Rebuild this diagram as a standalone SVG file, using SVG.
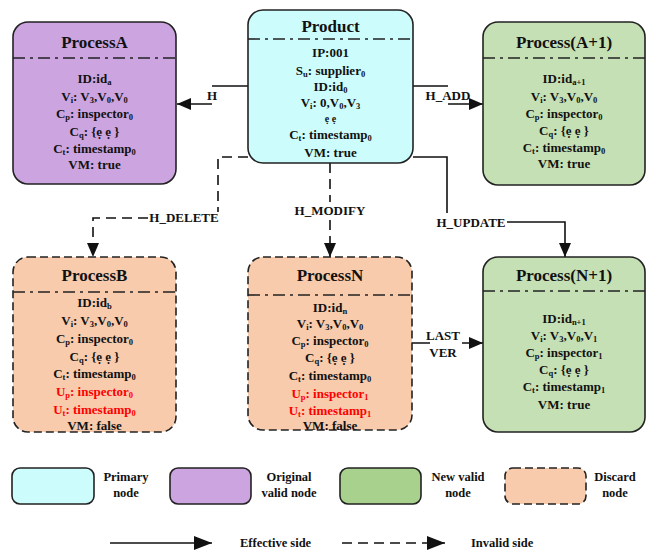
<svg xmlns="http://www.w3.org/2000/svg" width="647" height="552" viewBox="0 0 647 552">
<style>
text{font-family:"Liberation Serif","Times New Roman",serif;font-weight:bold;fill:#111;}
.t{font-size:17px;text-anchor:middle;}
.b{font-size:13px;text-anchor:middle;}
.r{fill:#FF0000;}
.s{font-size:8.5px;baseline-shift:-1.5px;}
.l{font-size:12.5px;}
.lc{font-size:12.5px;text-anchor:middle;}
.box{stroke:#222;stroke-width:1.6;}
.dsh{stroke-dasharray:8,4;}
.div{stroke:#222;stroke-width:1.6;fill:none;stroke-dasharray:12,5,3,5;}
.c{fill:none;stroke:#111;stroke-width:1.6;}
.cd{fill:none;stroke:#111;stroke-width:1.6;stroke-dasharray:10,6;}
</style>
<defs>
<marker id="ah" markerUnits="userSpaceOnUse" markerWidth="14" markerHeight="12" refX="14" refY="6" orient="auto">
<path d="M0,0 L14,6 L0,12 z" fill="#111"/>
</marker>
<marker id="ahL" markerUnits="userSpaceOnUse" markerWidth="18" markerHeight="14" refX="18" refY="7" orient="auto">
<path d="M0,0 L18,7 L0,14 z" fill="#111"/>
</marker>
</defs>
<rect width="647" height="552" fill="#fff"/>

<g id="connectors">
<path class="c" d="M248,86 H212 M212,104 H177" marker-end="url(#ah)"/>
<text class="b" x="212" y="100">H</text>
<path class="c" d="M413,86 H448 M448,104 H483" marker-end="url(#ah)"/>
<text class="b" x="448" y="100">H_ADD</text>
<path class="cd" d="M248,157 H218 V212 M148,218 H93 V257" marker-end="url(#ah)"/>
<text class="b" x="184" y="222">H_DELETE</text>
<path class="cd" d="M330,163 V202 M330,220 V257" marker-end="url(#ah)"/>
<text class="b" x="330" y="215">H_MODIFY</text>
<path class="c" d="M413,157 H447 V213 M507,222 H565 V257" marker-end="url(#ah)"/>
<text class="b" x="471" y="227">H_UPDATE</text>
<path class="c" d="M412,343 H430 M462,343 H483" marker-end="url(#ah)"/>
<text class="b" x="443" y="340">LAST</text>
<text class="b" x="443" y="357">VER</text>
</g>

<g id="product">
<rect class="box" x="248" y="10" width="165" height="153" rx="15" fill="#CCFCFC"/>
<text class="t" x="330.5" y="32">Product</text>
<line class="div" x1="248" y1="39" x2="413" y2="39"/>
<text class="b" x="330.5" y="57">IP:001</text>
<text class="b" x="330.5" y="75">S<tspan class="s">u</tspan>: supplier<tspan class="s">0</tspan></text>
<text class="b" x="330.5" y="91">ID:id<tspan class="s">0</tspan></text>
<text class="b" x="330.5" y="107">V<tspan class="s">i</tspan>: 0,V<tspan class="s">0</tspan>,V<tspan class="s">3</tspan></text>
<text class="b" x="330.5" y="122" style="font-size:10px">ẹ ẹ</text>
<text class="b" x="330.5" y="139">C<tspan class="s">t</tspan>: timestamp<tspan class="s">0</tspan></text>
<text class="b" x="330.5" y="157">VM: true</text>
</g>

<g id="processA">
<rect class="box" x="13" y="22" width="163" height="162" rx="15" fill="#CBA4E0"/>
<text class="t" x="94.5" y="48">ProcessA</text>
<line class="div" x1="13" y1="58" x2="176" y2="58"/>
<text class="b" x="94.5" y="83">ID:id<tspan class="s">a</tspan></text>
<text class="b" x="94.5" y="101">V<tspan class="s">i</tspan>: V<tspan class="s">3</tspan>,V<tspan class="s">0</tspan>,V<tspan class="s">0</tspan></text>
<text class="b" x="94.5" y="118">C<tspan class="s">p</tspan>: inspector<tspan class="s">0</tspan></text>
<text class="b" x="94.5" y="136">C<tspan class="s">q</tspan>: {ẹ ẹ }</text>
<text class="b" x="94.5" y="153">C<tspan class="s">t</tspan>: timestamp<tspan class="s">0</tspan></text>
<text class="b" x="94.5" y="169">VM: true</text>
</g>

<g id="processA1">
<rect class="box" x="483" y="22" width="162" height="163" rx="15" fill="#C6E0B5"/>
<text class="t" x="564" y="48">Process(A+1)</text>
<line class="div" x1="483" y1="58" x2="645" y2="58"/>
<text class="b" x="564" y="83">ID:id<tspan class="s">a+1</tspan></text>
<text class="b" x="564" y="101">V<tspan class="s">i</tspan>: V<tspan class="s">3</tspan>,V<tspan class="s">0</tspan>,V<tspan class="s">0</tspan></text>
<text class="b" x="564" y="118">C<tspan class="s">p</tspan>: inspector<tspan class="s">0</tspan></text>
<text class="b" x="564" y="135">C<tspan class="s">q</tspan>: {ẹ ẹ }</text>
<text class="b" x="564" y="152">C<tspan class="s">t</tspan>: timestamp<tspan class="s">0</tspan></text>
<text class="b" x="564" y="168">VM: true</text>
</g>

<g id="processB">
<rect class="box dsh" x="13" y="257" width="163" height="175" rx="15" fill="#F8CBAD"/>
<text class="t" x="94.5" y="281">ProcessB</text>
<line class="div" x1="13" y1="292" x2="176" y2="292"/>
<text class="b" x="94.5" y="307">ID:id<tspan class="s">b</tspan></text>
<text class="b" x="94.5" y="325">V<tspan class="s">i</tspan>: V<tspan class="s">3</tspan>,V<tspan class="s">0</tspan>,V<tspan class="s">0</tspan></text>
<text class="b" x="94.5" y="343">C<tspan class="s">p</tspan>: inspector<tspan class="s">0</tspan></text>
<text class="b" x="94.5" y="361">C<tspan class="s">q</tspan>: {ẹ ẹ }</text>
<text class="b" x="94.5" y="378">C<tspan class="s">t</tspan>: timestamp<tspan class="s">0</tspan></text>
<text class="b r" x="94.5" y="396">U<tspan class="s">p</tspan>: inspector<tspan class="s">0</tspan></text>
<text class="b r" x="94.5" y="414">U<tspan class="s">t</tspan>: timestamp<tspan class="s">0</tspan></text>
<text class="b" x="94.5" y="430">VM: false</text>
</g>

<g id="processN">
<rect class="box dsh" x="248" y="257" width="164" height="173" rx="15" fill="#F8CBAD"/>
<text class="t" x="330" y="281">ProcessN</text>
<line class="div" x1="248" y1="295" x2="412" y2="295"/>
<text class="b" x="330" y="312">ID:id<tspan class="s">n</tspan></text>
<text class="b" x="330" y="328">V<tspan class="s">i</tspan>: V<tspan class="s">3</tspan>,V<tspan class="s">0</tspan>,V<tspan class="s">0</tspan></text>
<text class="b" x="330" y="345">C<tspan class="s">p</tspan>: inspector<tspan class="s">0</tspan></text>
<text class="b" x="330" y="362">C<tspan class="s">q</tspan>: {ẹ ẹ }</text>
<text class="b" x="330" y="380">C<tspan class="s">t</tspan>: timestamp<tspan class="s">0</tspan></text>
<text class="b r" x="330" y="398">U<tspan class="s">p</tspan>: inspector<tspan class="s">1</tspan></text>
<text class="b r" x="330" y="415">U<tspan class="s">t</tspan>: timestamp<tspan class="s">1</tspan></text>
<text class="b" x="330" y="430">VM: false</text>
</g>

<g id="processN1">
<rect class="box" x="483" y="257" width="162" height="175" rx="15" fill="#C6E0B5"/>
<text class="t" x="564" y="281">Process(N+1)</text>
<line class="div" x1="483" y1="291" x2="645" y2="291"/>
<text class="b" x="564" y="323">ID:id<tspan class="s">n+1</tspan></text>
<text class="b" x="564" y="340">V<tspan class="s">i</tspan>: V<tspan class="s">3</tspan>,V<tspan class="s">0</tspan>,V<tspan class="s">1</tspan></text>
<text class="b" x="564" y="357">C<tspan class="s">p</tspan>: inspector<tspan class="s">1</tspan></text>
<text class="b" x="564" y="374">C<tspan class="s">q</tspan>: {ẹ ẹ }</text>
<text class="b" x="564" y="391">C<tspan class="s">t</tspan>: timestamp<tspan class="s">1</tspan></text>
<text class="b" x="564" y="409">VM: true</text>
</g>

<g id="legend">
<rect class="box" x="12" y="468" width="82" height="36" rx="8" fill="#CCFCFC"/>
<text class="lc" x="126" y="481">Primary</text>
<text class="lc" x="126" y="497">node</text>
<rect class="box" x="170" y="468" width="81" height="36" rx="8" fill="#CBA4E0"/>
<text class="lc" x="289" y="481">Original</text>
<text class="lc" x="289" y="497">valid node</text>
<rect class="box" x="340" y="468" width="81" height="36" rx="8" fill="#A9D18E"/>
<text class="lc" x="458" y="481">New valid</text>
<text class="lc" x="458" y="497">node</text>
<rect class="box dsh" x="505" y="468" width="81" height="36" rx="8" fill="#F8CBAD"/>
<text class="lc" x="615" y="481">Discard</text>
<text class="lc" x="615" y="497">node</text>
<path class="c" d="M110,543 H212" marker-end="url(#ahL)"/>
<text class="l" x="240" y="547">Effective side</text>
<path class="cd" d="M342,543 H445" marker-end="url(#ahL)"/>
<text class="l" x="471" y="547">Invalid side</text>
</g>
</svg>
